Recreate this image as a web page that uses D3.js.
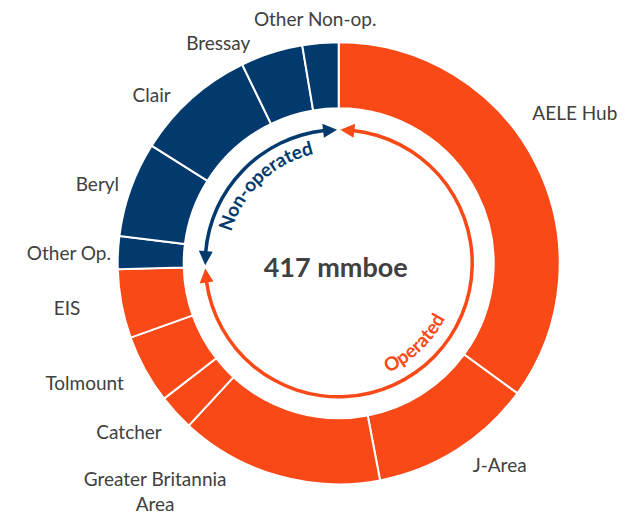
<!doctype html>
<html>
    <head>
        <title>Reserves</title>
        <meta charset="utf-8" />
        <style>
            body { margin: 0; background: #fff; }
            text { font-family: Lato, "Open Sans", sans-serif; }
        </style>
    </head>
    <script src="https://d3js.org/d3.v7.min.js"></script>

    <body>
        <svg width="639" height="515"></svg>
        <script>
            // field names, clockwise from 12 o'clock
            var fields = ["AELE Hub", "J-Area", "Greater Britannia Area", "Catcher", "Tolmount", "EIS",
                          "Other Op.", "Beryl", "Clair", "Bressay", "Other Non-op."];
            // 2P reserves, mmboe
            var reserves = [146, 50, 62, 11, 21, 21, 10, 29, 37, 19, 11];
            // ring colour group as drawn
            var operated = [true, true, true, true, true, true, false, false, false, false, false];
            var total = "417 mmboe";
            var groupNames = ["Operated", "Non-operated"];

            // label layout: compass angle (deg) and distance from centre
            var labelAngle = [57.5, 141.4, 218.8, 231.2, 244.7, 260.5, 272.1, 288.2, 312, 331.3, 354.5];
            var labelRadius = [280, 258, 293, 269, 281, 275.5, 270, 254, 251.7, 250.8, 245.5];

            var orange = "#f94917", blue = "#023a6e", grey = "#404040";
            var cx = 338.7, cy = 263.3;
            var rad = Math.PI / 180;

            var rows = fields.map((f, i) => ({name: f, value: reserves[i], op: operated[i]}));

            var pie = d3.pie().sort(null).value(d => d.value);
            var slices = pie(rows);
            var ring = d3.arc().innerRadius(155).outerRadius(221);

            var svg = d3.select("svg");
            var g = svg.append("g").attr("transform", `translate(${cx}, ${cy})`);

            g.selectAll("path.slice").data(slices).enter()
              .append("path").attr("class", "slice")
              .attr("d", ring)
              .style("fill", d => d.data.op ? orange : blue)
              .style("stroke", "#fff")
              .style("stroke-width", "2px");

            // labels
            g.selectAll("text.lbl").data(slices).enter()
              .append("text").attr("class", "lbl")
              .attr("transform", (d, i) => {
                  var p = d3.pointRadial(labelAngle[i] * rad, labelRadius[i]);
                  return `translate(${p[0]}, ${p[1]})`;
              })
              .attr("text-anchor", "middle")
              .style("font-size", "19px")
              .style("fill", grey)
              .each(function(d) {
                  var words = d.data.name == "Greater Britannia Area" ? ["Greater Britannia", "Area"] : [d.data.name];
                  var t = d3.select(this);
                  words.forEach((w, j) => {
                      t.append("tspan").attr("x", 0)
                        .attr("y", (j - (words.length - 1) / 2) * 25)
                        .attr("dy", "0.35em").text(w);
                  });
              });

            // group extents on the ring
            var split = d3.max(slices.filter(d => d.data.op), d => d.endAngle);
            var groups = [
                {name: groupNames[0], a0: 0, a1: split, color: orange, mid: 136.5 * rad, cw: false},
                {name: groupNames[1], a0: split, a1: 2 * Math.PI, color: blue, mid: 316.7 * rad, cw: true}
            ];

            var ar = 133.5, gap = 0.7 * rad, headLen = 14, headHalf = 7;
            var line = d3.arc().innerRadius(ar - 1.75).outerRadius(ar + 1.75);

            groups.forEach(grp => {
                var t0 = grp.a0 + gap, t1 = grp.a1 - gap;
                var da = headLen / ar;
                g.append("path")
                  .attr("d", line({startAngle: t0 + da - 0.01, endAngle: t1 - da + 0.01}))
                  .style("fill", grp.color);
                [[t0, t0 + da], [t1, t1 - da]].forEach(h => {
                    var tip = d3.pointRadial(h[0], ar),
                        b1 = d3.pointRadial(h[1], ar - headHalf),
                        b2 = d3.pointRadial(h[1], ar + headHalf);
                    g.append("path")
                      .attr("d", `M${tip}L${b1}L${b2}Z`)
                      .style("fill", grp.color);
                });
            });

            // curved group captions
            var defs = svg.append("defs");
            groups.forEach((grp, i) => {
                var r = grp.cw ? 112 : 120;
                var th = grp.mid - Math.PI / 2;
                var p = d3.path();
                if (grp.cw) {
                    p.moveTo(cx + r * Math.cos(th - Math.PI / 2), cy + r * Math.sin(th - Math.PI / 2));
                    p.arc(cx, cy, r, th - Math.PI / 2, th + Math.PI / 2, false);
                } else {
                    p.moveTo(cx + r * Math.cos(th + Math.PI / 2), cy + r * Math.sin(th + Math.PI / 2));
                    p.arc(cx, cy, r, th + Math.PI / 2, th - Math.PI / 2, true);
                }
                defs.append("path").attr("id", "cap" + i).attr("d", p.toString());
                svg.append("text")
                  .style("font-size", "19px").style("font-weight", "bold")
                  .style("fill", grp.color)
                  .append("textPath").attr("href", "#cap" + i)
                  .attr("startOffset", "50%").attr("text-anchor", "middle")
                  .text(grp.name);
            });

            svg.append("text")
              .attr("x", cx - 3).attr("y", cy + 4)
              .attr("text-anchor", "middle").attr("dy", "0.35em")
              .style("font-size", "27px").style("font-weight", "bold")
              .style("fill", grey)
              .text(total);
        </script>
    </body>
</html>
